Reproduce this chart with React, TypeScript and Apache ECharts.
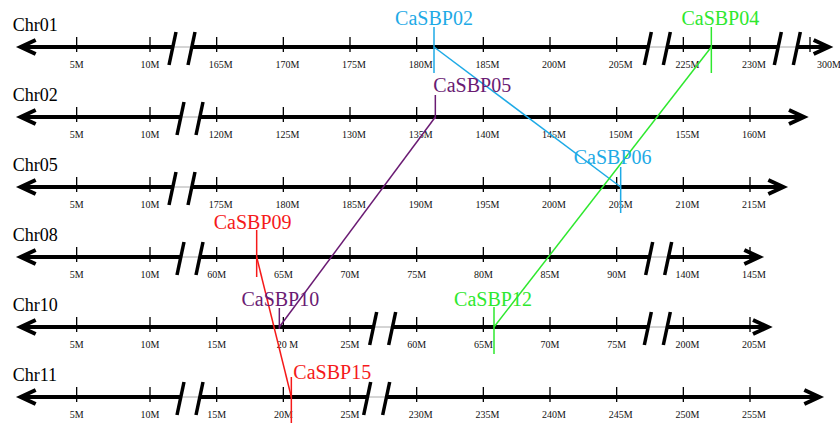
import React, { useEffect, useRef } from "react";
import * as echarts from "echarts";

// ---- data ----
const chromosomes = ["Chr01", "Chr02", "Chr05", "Chr08", "Chr10", "Chr11"];

const chr01Ticks = ["5M", "10M", "165M", "170M", "175M", "180M", "185M", "200M", "205M", "225M", "230M", "300M"];
const chr02Ticks = ["5M", "10M", "120M", "125M", "130M", "135M", "140M", "145M", "150M", "155M", "160M"];
const chr05Ticks = ["5M", "10M", "175M", "180M", "185M", "190M", "195M", "200M", "205M", "210M", "215M"];
const chr08Ticks = ["5M", "10M", "60M", "65M", "70M", "75M", "80M", "85M", "90M", "140M", "145M"];
const chr10Ticks = ["5M", "10M", "15M", "20 M", "25M", "60M", "65M", "70M", "75M", "200M", "205M"];
const chr11Ticks = ["5M", "10M", "15M", "20M", "25M", "230M", "235M", "240M", "245M", "250M", "255M"];

const geneNames = ["CaSBP02", "CaSBP04", "CaSBP05", "CaSBP06", "CaSBP09", "CaSBP10", "CaSBP12", "CaSBP15"];
const geneChr = ["Chr01", "Chr01", "Chr02", "Chr05", "Chr08", "Chr10", "Chr10", "Chr11"];
const geneMb = [181.3, 227.1, 136.4, 205.3, 63.0, 19.7, 65.8, 20.6];

const duplicatedPairs = [
  ["CaSBP02", "CaSBP06"],
  ["CaSBP04", "CaSBP12"],
  ["CaSBP05", "CaSBP10"],
  ["CaSBP09", "CaSBP15"],
];

// ---- layout & styles ----
const FONT = "Liberation Serif";
const pairColors = ["#1EAAE6", "#2EE82E", "#6A1B73", "#F51A1A"];

const tickLists = [chr01Ticks, chr02Ticks, chr05Ticks, chr08Ticks, chr10Ticks, chr11Ticks];
// column of each tick along the drawn axis (first tick sits slightly left of column 1)
const tickColumns = tickLists.map((ticks, r) =>
  ticks.map((_, i) => (i === 0 ? 0.9 : r === 0 && i === 11 ? 11.9 : i + 1))
);
// axis break centres (in columns) and right arrow tip per chromosome
const breakColumns = [[2.48, 9.61, 11.56], [2.6], [2.48], [2.6, 9.63], [5.49, 9.61], [2.6, 5.4]];
const arrowEnds = [12.24, 11.87, 11.56, 11.2, 11.33, 12.1];

const geneMarks: Record<string, { up: number; down: number; dx: number; dy: number; align: string }> = {
  CaSBP02: { up: 20, down: 26, dx: 0, dy: -29, align: "center" },
  CaSBP04: { up: 20, down: 26, dx: 9, dy: -29, align: "center" },
  CaSBP05: { up: 22, down: 2, dx: -2, dy: -32, align: "left" },
  CaSBP06: { up: 20, down: 26, dx: -8, dy: -30, align: "center" },
  CaSBP09: { up: 27, down: 20, dx: -4, dy: -35, align: "center" },
  CaSBP10: { up: 19, down: 2, dx: 1, dy: -28, align: "center" },
  CaSBP12: { up: 20, down: 27, dx: -1, dy: -28, align: "center" },
  CaSBP15: { up: 20, down: 26, dx: 2, dy: -25, align: "left" },
};

function mbOf(label: string) {
  return parseFloat(label);
}

function mbToColumn(row: number, mb: number) {
  const vals = tickLists[row].map(mbOf);
  const cols = tickColumns[row];
  for (let i = 0; i < vals.length - 1; i++) {
    if (mb >= vals[i] && mb <= vals[i + 1]) {
      return cols[i] + ((mb - vals[i]) / (vals[i + 1] - vals[i])) * (cols[i + 1] - cols[i]);
    }
  }
  return cols[cols.length - 1];
}

const genePoints = geneNames.map((name, i) => {
  const row = chromosomes.indexOf(geneChr[i]);
  return { name, row, col: mbToColumn(row, geneMb[i]) };
});

function geneColor(name: string) {
  const k = duplicatedPairs.findIndex((p) => p.includes(name));
  return pairColors[k];
}

const seg = (x1: number, y1: number, x2: number, y2: number, w: number, color: string) => ({
  type: "line",
  shape: { x1, y1, x2, y2 },
  style: { stroke: color, lineWidth: w, lineCap: "butt" },
});

function renderChromosome(params: any, api: any) {
  const row = api.value(1);
  const px = (c: number) => api.coord([c, row])[0];
  const y = api.coord([0, row])[1];
  const x0 = px(0);
  const xEnd = px(arrowEnds[row]);
  const children: any[] = [];

  // axis body, interrupted at each break
  const cuts = breakColumns[row].map((b) => [px(b) - 9.5, px(b) + 9.5]);
  let start = x0 + 4;
  for (const [a, b] of cuts) {
    children.push(seg(start, y, a, y, 4, "#000"));
    children.push(seg(a, y, b, y, 1, "#aaa"));
    start = b;
  }
  children.push(seg(start, y, xEnd - 6, y, 4, "#000"));

  // arrow heads on both ends
  const arrowStyle = { stroke: "#000", lineWidth: 4, fill: null, lineJoin: "miter", lineCap: "butt" };
  children.push({
    type: "polyline",
    shape: { points: [[x0 + 19, y - 7], [x0 + 4, y], [x0 + 19, y + 7]] },
    style: arrowStyle,
  });
  children.push({
    type: "polyline",
    shape: { points: [[xEnd - 19, y - 7], [xEnd - 4, y], [xEnd - 19, y + 7]] },
    style: arrowStyle,
  });

  // slanted break marks
  for (const [a, b] of cuts) {
    for (const bx of [a, b]) children.push(seg(bx + 3.5, y - 15, bx - 3.5, y + 18, 3.5, "#000"));
  }

  // ticks and their labels
  tickLists[row].forEach((label, i) => {
    const x = px(tickColumns[row][i]);
    children.push(seg(x, y - 10, x, y + 5, 1.3, "#000"));
    const isLast = row === 0 && i === tickLists[row].length - 1;
    children.push({
      type: "text",
      x: isLast ? x + 7 : x + (label.length >= 4 ? 4 : 0),
      y: y + 17,
      style: {
        text: label,
        fill: "#111",
        fontSize: 10,
        fontFamily: FONT,
        align: isLast ? "left" : "center",
        verticalAlign: "middle",
      },
    });
  });

  // chromosome name
  children.push({
    type: "text",
    x: x0 - 4,
    y: y - 22,
    style: {
      text: chromosomes[row],
      fill: "#000",
      fontSize: 18,
      fontFamily: FONT,
      align: "left",
      verticalAlign: "middle",
    },
  });

  return { type: "group", children };
}

function renderGene(params: any, api: any) {
  const p = genePoints[params.dataIndex];
  const [x, y] = api.coord([api.value(0), api.value(1)]);
  const m = geneMarks[p.name];
  const color = geneColor(p.name);
  return {
    type: "group",
    children: [
      seg(x, y - m.up, x, y + m.down, 1.5, color),
      {
        type: "text",
        x: x + m.dx,
        y: y + m.dy,
        style: {
          text: p.name,
          fill: color,
          fontSize: 20,
          fontFamily: FONT,
          align: m.align,
          verticalAlign: "middle",
        },
      },
    ],
  };
}

export default function App() {
  const ref = useRef<HTMLDivElement>(null);

  useEffect(() => {
    if (!ref.current) return;
    const chart = echarts.init(ref.current, undefined, { renderer: "svg" });

    const linkSeries = duplicatedPairs.map((pair, k) => {
      const a = genePoints.find((g) => g.name === pair[0])!;
      const b = genePoints.find((g) => g.name === pair[1])!;
      return {
        type: "line",
        name: pair.join("-"),
        data: [
          [a.col, a.row],
          [b.col, b.row],
        ],
        showSymbol: false,
        symbol: "none",
        silent: true,
        clip: false,
        z: 3,
        lineStyle: { color: pairColors[k], width: 1.5 },
      };
    });

    chart.setOption({
      animation: false,
      backgroundColor: "#fff",
      grid: { left: 16.67, top: 47, width: 800, height: 350, outerBoundsMode: "none", containLabel: false },
      xAxis: { type: "value", min: 0, max: 12, show: false },
      yAxis: { type: "value", min: 0, max: 5, inverse: true, show: false },
      series: [
        {
          type: "custom",
          name: "chromosomes",
          renderItem: renderChromosome,
          data: chromosomes.map((_, r) => [0, r]),
          silent: true,
          clip: false,
          z: 2,
        },
        ...linkSeries,
        {
          type: "custom",
          name: "genes",
          renderItem: renderGene,
          data: genePoints.map((g) => [g.col, g.row]),
          silent: true,
          clip: false,
          z: 4,
        },
      ],
    });

    return () => chart.dispose();
  }, []);

  return (
    <div
      ref={ref}
      style={{ position: "absolute", left: 0, top: 0, width: 840, height: 425, background: "#fff" }}
    />
  );
}
